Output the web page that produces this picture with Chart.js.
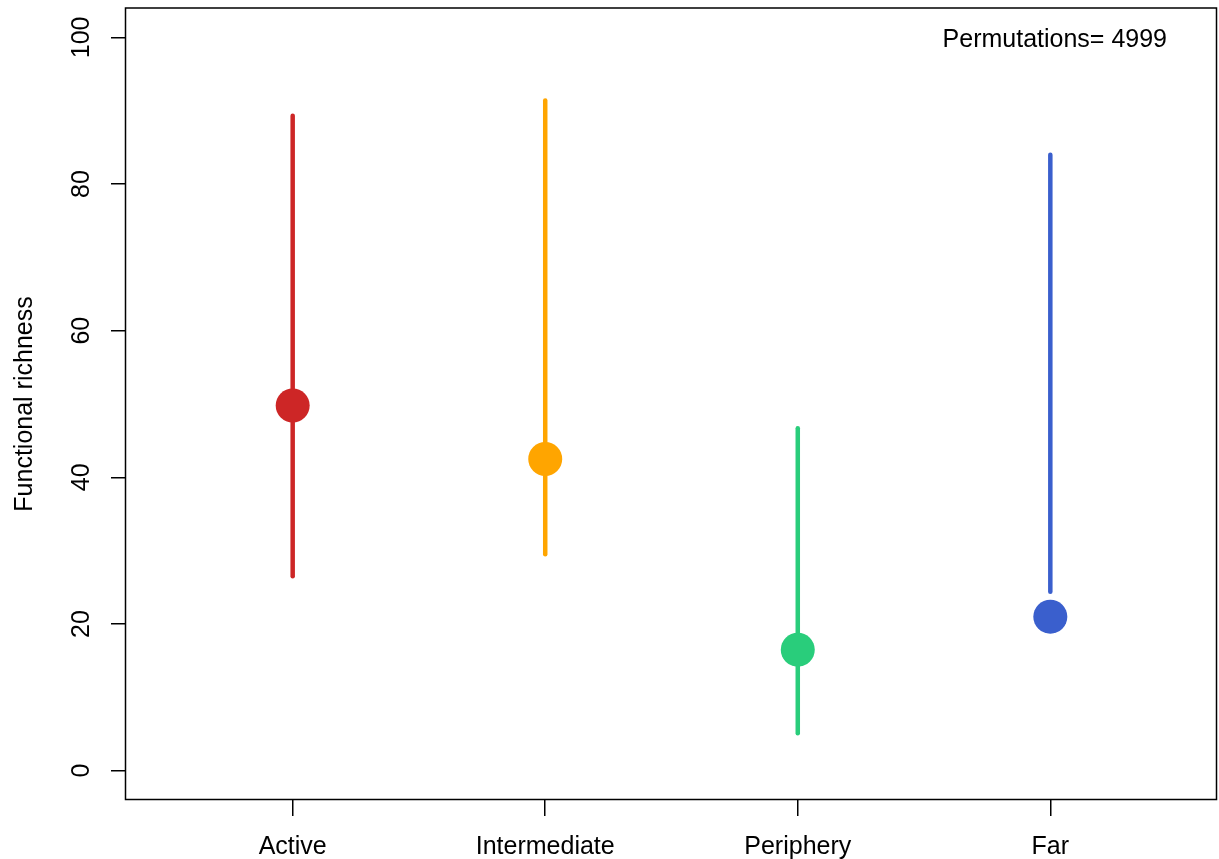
<!DOCTYPE html>
<html>
<head>
<meta charset="utf-8">
<title>Functional richness by site</title>
<script src="https://cdn.jsdelivr.net/npm/chart.js@4/dist/chart.umd.min.js"></script>
<style>
  html, body { margin: 0; padding: 0; background: #ffffff; }
  #wrap { width: 1219px; height: 859px; }
</style>
</head>
<body>
<div id="wrap"><canvas id="c" width="1219" height="859"></canvas></div>
<script>
// Sites along the disturbance gradient
const sites = ['Active', 'Intermediate', 'Periphery', 'Far'];
// Observed functional richness per site
const observed = [49.8, 42.5, 16.5, 21.0];
// Null-model range (lower / upper limit) per site
const nullLow = [26.5, 29.5, 5.1, 24.4];
const nullHigh = [89.3, 91.4, 46.7, 84.0];
const siteColours = ['#CD2626', '#FFA500', '#29CD7B', '#3A5FCD'];
const yTicks = [0, 20, 40, 60, 80, 100];
const permutations = 4999;

const FONT = '"Liberation Sans", Arial, Helvetica, sans-serif';
Chart.defaults.font.family = FONT;
Chart.defaults.color = '#000000';

// Vertical range segments, one per site
const rangeSets = sites.map((s, i) => ({
  label: s + ' range',
  data: [{ x: i + 1, y: nullLow[i] }, { x: i + 1, y: nullHigh[i] }],
  showLine: true,
  borderColor: siteColours[i],
  borderWidth: 4.5,
  borderCapStyle: 'round',
  pointRadius: 0,
  order: 2
}));

// Observed values drawn as filled dots on top of the ranges
const observedSet = {
  label: 'Observed',
  data: observed.map((v, i) => ({ x: i + 1, y: v })),
  backgroundColor: siteColours,
  borderWidth: 0,
  pointRadius: 17,
  pointHoverRadius: 17,
  order: 1
};

// Tick labels never reach the frame edges, so no extra room is reserved for them
function noEdgePadding(scale) {
  scale.paddingTop = 0;
  scale.paddingBottom = 0;
  scale.paddingLeft = 0;
  scale.paddingRight = 0;
}

// Frame around the plotting region
const frame = {
  id: 'frame',
  afterDraw(chart) {
    const { ctx, chartArea: a } = chart;
    ctx.save();
    ctx.strokeStyle = '#000000';
    ctx.lineWidth = 1.5;
    ctx.strokeRect(a.left - 0.5, a.top, a.right - a.left, a.bottom - a.top - 0.5);
    ctx.restore();
  }
};

// Number of permutations, top right inside the frame
const permNote = {
  id: 'permNote',
  afterDraw(chart) {
    const { ctx, chartArea: a } = chart;
    ctx.save();
    ctx.font = '25px ' + FONT;
    ctx.fillStyle = '#000000';
    ctx.textAlign = 'right';
    ctx.textBaseline = 'alphabetic';
    ctx.fillText('Permutations= ' + permutations, a.right - 50, a.top + 38.5);
    ctx.restore();
  }
};

new Chart(document.getElementById('c'), {
  type: 'scatter',
  data: { datasets: [observedSet, ...rangeSets] },
  plugins: [frame, permNote],
  options: {
    responsive: false,
    animation: false,
    devicePixelRatio: 1,
    layout: { autoPadding: false, padding: { top: 8, right: 2, left: 0, bottom: 0 } },
    plugins: { legend: { display: false }, tooltip: { enabled: false } },
    scales: {
      x: {
        type: 'linear',
        min: 0.34,
        max: 4.66,
        afterBuildTicks(scale) {
          scale.ticks = sites.map((s, i) => ({ value: i + 1 }));
        },
        afterFit(scale) { scale.height = 59; noEdgePadding(scale); },
        ticks: {
          autoSkip: false,
          maxRotation: 0,
          minRotation: 0,
          padding: 16,
          font: { size: 25 },
          color: '#000000',
          callback: (v) => sites[Math.round(v) - 1] || ''
        },
        grid: {
          drawOnChartArea: false,
          drawTicks: true,
          tickLength: 16,
          color: '#000000',
          lineWidth: 1.5
        },
        border: { display: false }
      },
      y: {
        type: 'linear',
        min: -4,
        max: 104,
        afterBuildTicks(scale) {
          scale.ticks = yTicks.map(v => ({ value: v }));
        },
        afterFit(scale) { scale.width = 126; noEdgePadding(scale); },
        ticks: {
          minRotation: 90,
          maxRotation: 90,
          crossAlign: 'center',
          padding: 8,
          font: { size: 25 },
          color: '#000000'
        },
        grid: {
          drawOnChartArea: false,
          drawTicks: true,
          tickLength: 15,
          color: '#000000',
          lineWidth: 1.5
        },
        border: { display: false },
        title: {
          display: true,
          text: 'Functional richness',
          font: { size: 25 },
          color: '#000000',
          padding: { top: 10, bottom: 0 }
        }
      }
    }
  }
});
</script>
</body>
</html>
